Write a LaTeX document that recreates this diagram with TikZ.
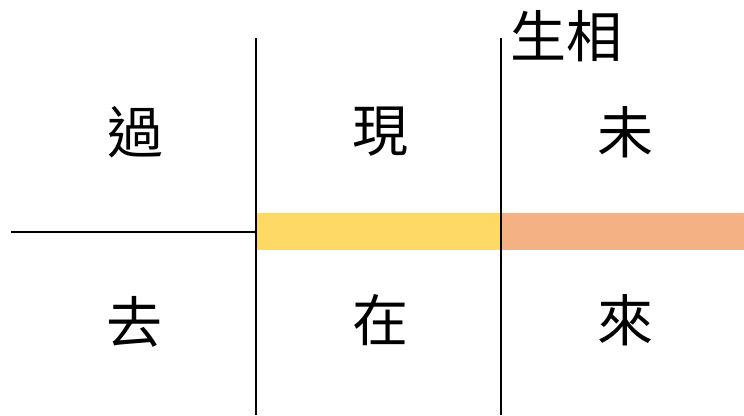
\documentclass[tikz,border=0pt]{standalone}
\usepackage{fontspec}
\usepackage{xcolor}
\newfontfamily\cjk{Noto Sans CJK TC}
\definecolor{present}{RGB}{255,217,102}
\definecolor{future}{RGB}{244,177,131}
\newcommand{\Bigchar}{\cjk\fontsize{56}{60}\selectfont}
\tikzstyle{char}=[inner sep=0pt, font=\Bigchar]
\tikzstyle{bar}=[inner sep=0pt, minimum height=37pt, draw=none]
\tikzstyle{rule}=[line width=2pt, black]

\begin{document}
\begin{tikzpicture}[x=1pt,y=-1pt]
  \useasboundingbox (0,0) rectangle (744,415);
  \draw (135,132) node[char] (C11) {過};
  \draw (134,322) node[char] (C12) {去};
  \draw (380,132) node[char] (C21) {現};
  \draw (380,320) node[char] (C22) {在};
  \draw (625,132) node[char] (C31) {未};
  \draw (625,320) node[char] (C32) {來};
  \draw (566,36) node[char] (C4) {生相};

  %% bars
  \draw (379,231.5) node[bar,fill=present,minimum width=244pt] (B1) {};
  \draw (623,231.5) node[bar,fill=future,minimum width=242pt] (B2) {};

  %% lines
  \coordinate (T1) at (256,38);
  \coordinate (D1) at (256,415);
  \coordinate (T2) at (501,38);
  \coordinate (D2) at (501,415);
  \coordinate (L1) at (11,232);
  \draw[rule] (T1) -- (D1);
  \draw[rule] (T2) -- (D2);
  \draw[rule] (L1) -- (T1 |- L1);
\end{tikzpicture}
\end{document}
